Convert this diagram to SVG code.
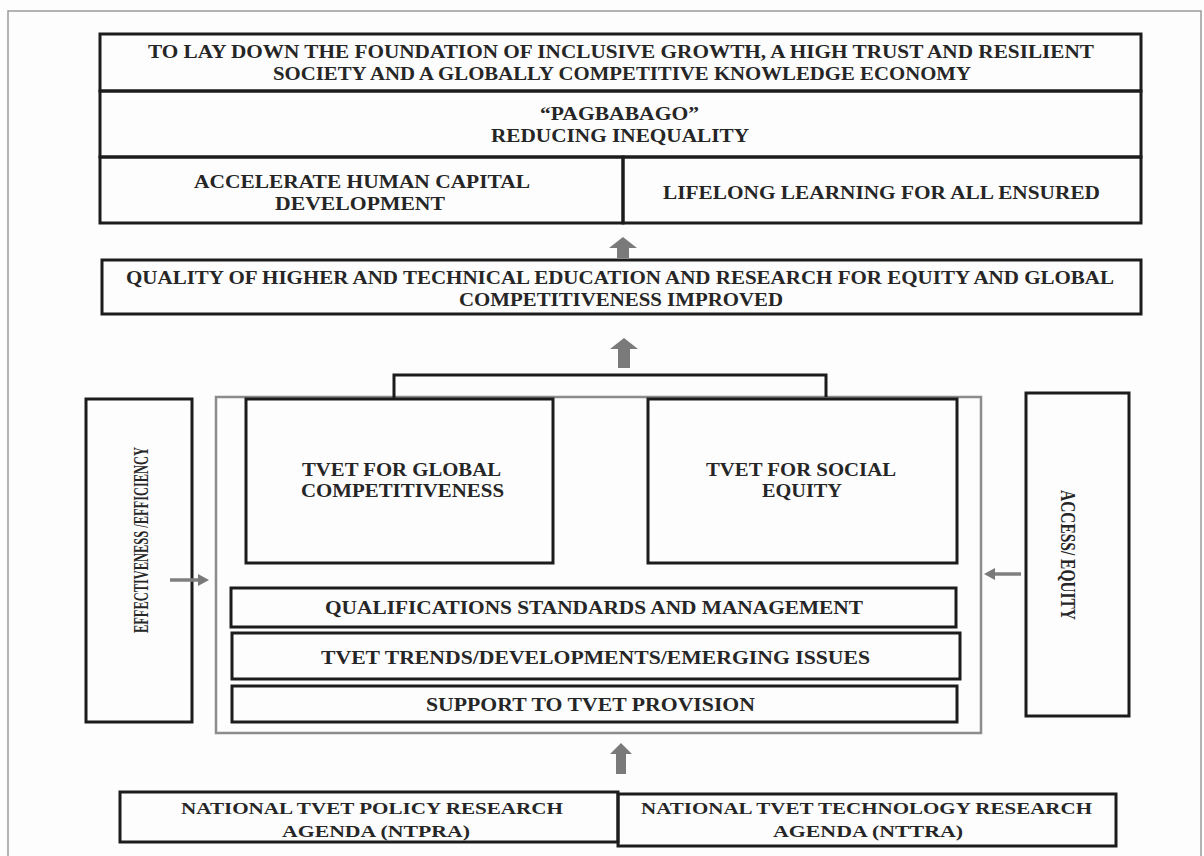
<svg xmlns="http://www.w3.org/2000/svg" width="1204" height="856" viewBox="0 0 1204 856">
<defs>
<style>
.bx{fill:none;stroke:#1c1c1c;stroke-width:3}
.gf{fill:none;stroke:#8c8c8c;stroke-width:2.5}
.t{font-family:"Liberation Serif","DejaVu Serif",serif;font-weight:bold;font-size:18px;fill:#262626}
.s{font-size:17px}
.r{font-size:22px}
.ar{fill:#7a7a7a}
.ln{stroke:#7f7f7f;stroke-width:3.5;fill:none}
</style>
</defs>
<rect x="0" y="0" width="1204" height="856" fill="#fdfdfd"/>
<rect x="8" y="11" width="1193" height="870" fill="none" stroke="#9a9a9a" stroke-width="1.5"/>

<g id="goal">
<rect class="bx" x="100" y="34" width="1041" height="57"/>
<text class="t" x="148" y="58" textLength="946" lengthAdjust="spacingAndGlyphs">TO LAY DOWN THE FOUNDATION OF INCLUSIVE GROWTH, A HIGH TRUST AND RESILIENT</text>
<text class="t" x="273" y="80" textLength="698" lengthAdjust="spacingAndGlyphs">SOCIETY AND A GLOBALLY COMPETITIVE KNOWLEDGE ECONOMY</text>
</g>
<g id="pagbabago">
<rect class="bx" x="100" y="91" width="1041" height="66"/>
<text class="t" x="540" y="120" textLength="159" lengthAdjust="spacingAndGlyphs">“PAGBABAGO”</text>
<text class="t" x="491" y="142" textLength="258" lengthAdjust="spacingAndGlyphs">REDUCING INEQUALITY</text>
</g>
<g id="accelerate">
<rect class="bx" x="100" y="157" width="523" height="66"/>
<text class="t" x="194" y="188" textLength="336" lengthAdjust="spacingAndGlyphs">ACCELERATE HUMAN CAPITAL</text>
<text class="t" x="275" y="210" textLength="170" lengthAdjust="spacingAndGlyphs">DEVELOPMENT</text>
</g>
<g id="lifelong">
<rect class="bx" x="623" y="157" width="518" height="66"/>
<text class="t" x="663" y="199" textLength="437" lengthAdjust="spacingAndGlyphs">LIFELONG LEARNING FOR ALL ENSURED</text>
</g>
<g id="quality">
<rect class="bx" x="102" y="260" width="1039" height="54"/>
<text class="t" x="126" y="284" textLength="988" lengthAdjust="spacingAndGlyphs">QUALITY OF HIGHER AND TECHNICAL EDUCATION AND RESEARCH FOR EQUITY AND GLOBAL</text>
<text class="t" x="459" y="306" textLength="324" lengthAdjust="spacingAndGlyphs">COMPETITIVENESS IMPROVED</text>
</g>
<g id="tvet-frame">
<rect class="gf" x="216" y="397" width="765" height="336"/>
</g>
<g id="effectiveness">
<rect class="bx" x="86" y="399" width="106" height="323"/>
<text class="t r" transform="translate(148,540) rotate(-90)" x="0" y="0" text-anchor="middle" textLength="186" lengthAdjust="spacingAndGlyphs">EFFECTIVENESS /EFFICIENCY</text>
</g>
<g id="global">
<rect class="bx" x="246" y="399" width="307" height="164"/>
<text class="t" x="302" y="476" textLength="199" lengthAdjust="spacingAndGlyphs">TVET FOR GLOBAL</text>
<text class="t" x="301" y="497" textLength="203" lengthAdjust="spacingAndGlyphs">COMPETITIVENESS</text>
</g>
<g id="social">
<rect class="bx" x="648" y="399" width="309" height="164"/>
<text class="t" x="706" y="476" textLength="190" lengthAdjust="spacingAndGlyphs">TVET FOR SOCIAL</text>
<text class="t" x="762" y="497" textLength="80" lengthAdjust="spacingAndGlyphs">EQUITY</text>
</g>
<g id="qualifications">
<rect class="bx" x="231" y="588" width="725" height="39"/>
<text class="t" x="325" y="614" textLength="538" lengthAdjust="spacingAndGlyphs">QUALIFICATIONS STANDARDS AND MANAGEMENT</text>
</g>
<g id="trends">
<rect class="bx" x="232" y="633" width="728" height="46"/>
<text class="t" x="321" y="664" textLength="549" lengthAdjust="spacingAndGlyphs">TVET TRENDS/DEVELOPMENTS/EMERGING ISSUES</text>
</g>
<g id="support">
<rect class="bx" x="232" y="686" width="725" height="36"/>
<text class="t" x="426" y="711" textLength="329" lengthAdjust="spacingAndGlyphs">SUPPORT TO TVET PROVISION</text>
</g>
<g id="access">
<rect class="bx" x="1026" y="393" width="103" height="323"/>
<text class="t r" transform="translate(1061,555) rotate(90)" x="0" y="0" text-anchor="middle" textLength="130" lengthAdjust="spacingAndGlyphs">ACCESS/ EQUITY</text>
</g>
<g id="ntpra">
<rect class="bx" x="120" y="792" width="498" height="50"/>
<text class="t s" x="181" y="814" textLength="382" lengthAdjust="spacingAndGlyphs">NATIONAL TVET POLICY RESEARCH</text>
<text class="t s" x="282" y="837" textLength="188" lengthAdjust="spacingAndGlyphs">AGENDA (NTPRA)</text>
</g>
<g id="nttra">
<rect class="bx" x="618" y="794" width="498" height="52"/>
<text class="t s" x="641" y="814" textLength="451" lengthAdjust="spacingAndGlyphs">NATIONAL TVET TECHNOLOGY RESEARCH</text>
<text class="t s" x="773" y="837" textLength="190" lengthAdjust="spacingAndGlyphs">AGENDA (NTTRA)</text>
</g>

<g id="connectors">
<path class="ar" d="M623,237 L637,248 L629,248 L629,258 L617,258 L617,248 L609,248 Z"/>
<path class="ar" d="M624,338 L638,349 L630,349 L630,368 L618,368 L618,349 L610,349 Z"/>
<path class="bx" d="M394,399 V375 H826 V397"/>
<path class="ar" d="M621,743 L632,754 L626,754 L626,774 L616,774 L616,754 L610,754 Z"/>
<line class="ln" x1="170" y1="580" x2="200" y2="580"/>
<path class="ar" d="M209,580 L198,574 L198,586 Z"/>
<line class="ln" x1="1021" y1="574" x2="993" y2="574"/>
<path class="ar" d="M984,574 L995,568 L995,580 Z"/>
</g>
</svg>
